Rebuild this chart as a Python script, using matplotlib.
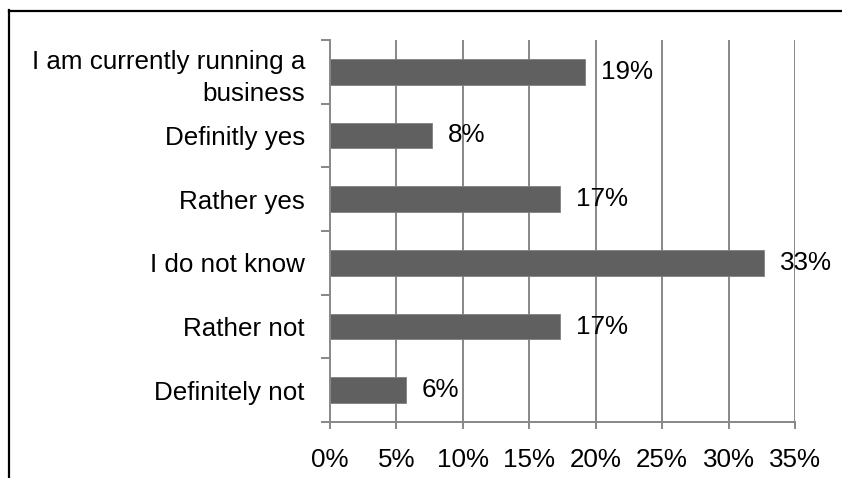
import matplotlib
matplotlib.use("Agg")
import matplotlib.pyplot as plt
from matplotlib.lines import Line2D

categories = ["I am currently running a\nbusiness", "Definitly yes", "Rather yes",
              "I do not know", "Rather not", "Definitely not"]
values = [19.2, 7.7, 17.3, 32.7, 17.3, 5.7]
labels = ["19%", "8%", "17%", "33%", "17%", "6%"]
xticks = [0, 5, 10, 15, 20, 25, 30, 35]
xticklabels = ["0%", "5%", "10%", "15%", "20%", "25%", "30%", "35%"]

plt.rcParams['font.family'] = ['Liberation Sans', 'DejaVu Sans']
W, H = 842, 478
fig = plt.figure(figsize=(W / 100, H / 100), dpi=100)
ax = fig.add_axes([330 / W, 1 - 422 / H, (795 - 330) / W, (422 - 40) / H])

grid_c = '#878787'
n = len(categories)
ypos = list(range(n))[::-1]
ax.barh(ypos, values, height=0.4, color='#606060', edgecolor='#808080', linewidth=0.6, zorder=3)

for y, v, lab in zip(ypos, values, labels):
    ax.annotate(lab, (v, y), xytext=(11.5, 0), textcoords='offset points',
                ha='left', va='center', fontsize=18.7, color='black', zorder=4)

ax.set_xlim(0, 35)
ax.set_ylim(-0.5, n - 0.5)
ax.set_xticks(xticks)
ax.set_xticklabels(xticklabels, fontsize=18.7)
ax.set_yticks(ypos)
ax.set_yticklabels(categories, fontsize=18.7, linespacing=1.4)
ax.set_yticks([i - 0.5 for i in range(n + 1)], minor=True)

ax.tick_params(axis='y', which='major', length=0, pad=18)
ax.tick_params(axis='y', which='minor', length=6.5, width=1.4, color=grid_c, direction='out')
ax.tick_params(axis='x', which='major', length=5, width=1.4, color=grid_c, direction='out', pad=14)

for x in xticks[1:]:
    ax.axvline(x, color=grid_c, linewidth=1.4, zorder=1)

for s in ['top', 'right']:
    ax.spines[s].set_visible(False)
for s in ['left', 'bottom']:
    ax.spines[s].set_color(grid_c)
    ax.spines[s].set_linewidth(1.4)
    ax.spines[s].set_zorder(5)

# outer border (top and left visible)
fig.add_artist(Line2D([9 / W, 9 / W], [0, 1 - 10 / H], color='black', linewidth=1.6, transform=fig.transFigure))
fig.add_artist(Line2D([9 / W, 1], [1 - 10.5 / H, 1 - 10.5 / H], color='black', linewidth=1.6, transform=fig.transFigure))

fig.savefig("out.png", dpi=100)
